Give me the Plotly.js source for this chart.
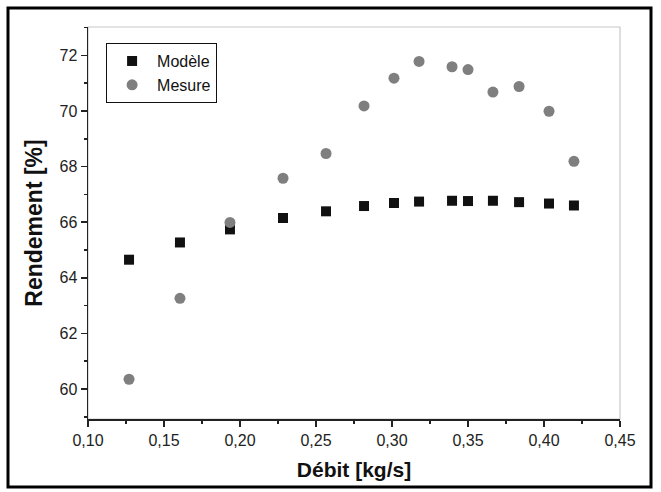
<!DOCTYPE html>
<html>
<head>
<meta charset="utf-8">
<script src="https://cdn.plot.ly/plotly-3.0.1.min.js"></script>
<style>
html,body{margin:0;padding:0;background:#fff;}
#chart{width:661px;height:492px;}
</style>
</head>
<body>
<div id="chart"></div>
<script>
// Data
const debit = [0.127, 0.1605, 0.1934, 0.2283, 0.2566, 0.2816, 0.3013, 0.3178, 0.3395, 0.35, 0.3664, 0.3836, 0.4033, 0.4197];
const modele = [64.65, 65.27, 65.74, 66.15, 66.39, 66.58, 66.69, 66.74, 66.77, 66.76, 66.77, 66.72, 66.67, 66.60];
const mesure = [60.35, 63.26, 65.99, 67.58, 68.47, 70.18, 71.18, 71.78, 71.59, 71.49, 70.68, 70.88, 69.99, 68.19];
const xTicks = [0.10, 0.15, 0.20, 0.25, 0.30, 0.35, 0.40, 0.45];
const yTicks = [60, 62, 64, 66, 68, 70, 72];

const font = "Liberation Sans, Arial, sans-serif";

const traces = [
  {
    x: debit, y: modele, name: "Modèle", type: "scatter", mode: "markers",
    marker: {symbol: "square", size: 10, color: "#111111", line: {width: 0}}
  },
  {
    x: debit, y: mesure, name: "Mesure", type: "scatter", mode: "markers",
    marker: {symbol: "circle", size: 11, color: "#7f7f7f", line: {width: 0}}
  }
];

const layout = {
  width: 661, height: 492,
  margin: {l: 88, r: 41, t: 27, b: 73, pad: 0},
  paper_bgcolor: "#ffffff", plot_bgcolor: "#ffffff",
  separators: ", ",
  font: {family: font, color: "#222222", size: 16},
  showlegend: true,
  legend: {
    x: 0.034, y: 0.959, xanchor: "left", yanchor: "top",
    bgcolor: "#ffffff", bordercolor: "#111111", borderwidth: 1,
    font: {family: font, size: 16, color: "#111111"},
    itemwidth: 40,
    tracegroupgap: 0
  },
  xaxis: {
    range: [0.10, 0.45],
    tickvals: xTicks, tickformat: ".2f",
    ticks: "outside", ticklen: 6, tickwidth: 1.5, tickcolor: "#222",
    minor: {dtick: 0.025, ticks: "outside", ticklen: 3, tickwidth: 1.5, tickcolor: "#222", showgrid: false},
    showline: true, linecolor: "#222", linewidth: 1.5,
    showgrid: false, zeroline: false,
    tickfont: {family: font, size: 16, color: "#222"},
    title: {text: "Débit [kg/s]", font: {family: font, size: 21, color: "#111", weight: "bold"}, standoff: 14}
  },
  yaxis: {
    range: [58.92, 73.02],
    tickvals: yTicks,
    ticks: "outside", ticklen: 6, tickwidth: 1.5, tickcolor: "#222",
    minor: {dtick: 1, tick0: 59, ticks: "outside", ticklen: 3, tickwidth: 1.5, tickcolor: "#222", showgrid: false},
    showline: true, linecolor: "#222", linewidth: 1.5,
    showgrid: false, zeroline: false,
    tickfont: {family: font, size: 16, color: "#222"},
    title: {text: "Rendement [%]", font: {family: font, size: 23, color: "#111", weight: "bold"}, standoff: 10}
  },
  shapes: [
    {type: "rect", xref: "paper", yref: "paper", x0: 0, x1: 1, y0: 0, y1: 1,
     line: {color: "#c8c8c8", width: 1.2}, layer: "below"},
    {type: "rect", xref: "paper", yref: "paper",
     x0: (8 - 88) / 532, x1: (651 - 88) / 532, y0: (419 - 487) / 392, y1: (419 - 8) / 392,
     line: {color: "#000000", width: 3}, layer: "above"}
  ]
};

Plotly.newPlot("chart", traces, layout, {staticPlot: true, displayModeBar: false});
</script>
</body>
</html>
